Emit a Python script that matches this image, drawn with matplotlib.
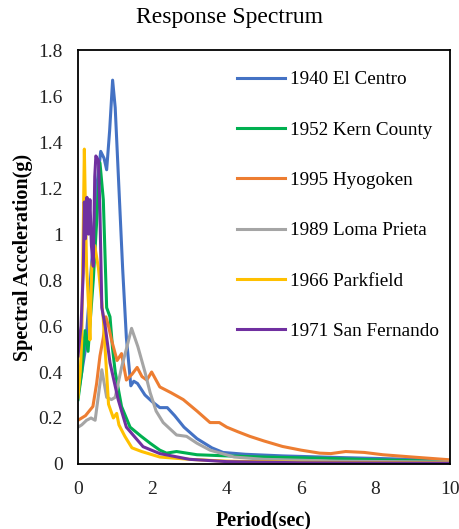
import matplotlib
matplotlib.use("Agg")
import matplotlib.pyplot as plt

plt.rcParams['font.family'] = ['Liberation Serif', 'DejaVu Serif']

# spectra: period (s) and spectral acceleration (g)
el_centro_t = [0.0, 0.2, 0.4, 0.5, 0.61, 0.7, 0.77, 0.85, 0.93, 1.0, 1.1, 1.2, 1.3, 1.42, 1.5, 1.6,
               1.8, 2.0, 2.2, 2.4, 2.6, 2.85, 3.2, 3.6, 3.9, 4.5, 5.5, 7.0, 8.5, 10.0]
el_centro_a = [0.3, 0.5, 0.95, 1.2, 1.36, 1.33, 1.28, 1.45, 1.67, 1.55, 1.2, 0.85, 0.55, 0.34, 0.36, 0.35,
               0.3, 0.27, 0.245, 0.245, 0.21, 0.16, 0.11, 0.07, 0.05, 0.042, 0.035, 0.028, 0.022, 0.015]

kern_t = [0.0, 0.1, 0.19, 0.27, 0.34, 0.41, 0.5, 0.59, 0.68, 0.77, 0.86, 0.93, 1.0, 1.17, 1.4,
          1.7, 1.94, 2.2, 2.38, 2.65, 3.2, 4.0, 5.0, 6.5, 8.0, 10.0]
kern_a = [0.28, 0.4, 0.58, 0.49, 0.65, 0.8, 1.05, 1.31, 1.15, 0.68, 0.64, 0.5, 0.4, 0.25, 0.16,
          0.12, 0.09, 0.06, 0.047, 0.054, 0.04, 0.035, 0.03, 0.025, 0.018, 0.01]

hyogoken_t = [0.0, 0.2, 0.4, 0.5, 0.59, 0.68, 0.75, 0.82, 0.9, 1.05, 1.17, 1.3, 1.45, 1.59, 1.72,
              1.85, 1.98, 2.2, 2.5, 2.83, 3.2, 3.55, 3.8, 4.0, 4.3, 4.62, 5.0, 5.5, 6.0, 6.5,
              6.8, 7.2, 7.7, 8.2, 9.0, 10.0]
hyogoken_a = [0.19, 0.21, 0.25, 0.35, 0.47, 0.55, 0.64, 0.6, 0.54, 0.45, 0.48, 0.365, 0.39, 0.42, 0.38,
              0.365, 0.4, 0.335, 0.31, 0.28, 0.23, 0.18, 0.18, 0.16, 0.14, 0.12, 0.1, 0.076, 0.06, 0.047,
              0.045, 0.054, 0.05, 0.04, 0.03, 0.018]

loma_prieta_t = [0.0, 0.1, 0.23, 0.35, 0.46, 0.55, 0.64, 0.77, 0.9, 1.0, 1.17, 1.3, 1.44, 1.61,
                 1.8, 1.94, 2.1, 2.29, 2.65, 2.92, 3.2, 3.55, 4.2, 5.0, 7.0, 10.0]
loma_prieta_a = [0.16, 0.17, 0.19, 0.2, 0.19, 0.3, 0.41, 0.29, 0.28, 0.29, 0.42, 0.5, 0.59, 0.51,
                 0.4, 0.31, 0.23, 0.18, 0.126, 0.12, 0.09, 0.06, 0.03, 0.02, 0.012, 0.008]

parkfield_t = [0.0, 0.06, 0.1, 0.13, 0.17, 0.2, 0.23, 0.28, 0.32, 0.37, 0.45, 0.55, 0.68, 0.82,
               0.95, 1.04, 1.1, 1.26, 1.45, 1.71, 2.2, 3.0, 4.0, 6.0, 10.0]
parkfield_a = [0.29, 0.4, 0.54, 0.9, 1.37, 1.1, 0.86, 0.7, 0.54, 0.86, 0.95, 0.85, 0.63, 0.26,
               0.2, 0.22, 0.17, 0.12, 0.07, 0.054, 0.03, 0.02, 0.012, 0.007, 0.004]

san_fernando_t = [0.0, 0.08, 0.14, 0.17, 0.2, 0.24, 0.28, 0.32, 0.36, 0.41, 0.45, 0.48, 0.55, 0.59,
                  0.64, 0.73, 0.86, 1.08, 1.3, 1.75, 2.2, 3.0, 4.0, 6.0, 10.0]
san_fernando_a = [0.47, 0.6, 0.83, 1.14, 0.98, 1.16, 1.0, 1.15, 0.95, 0.86, 1.25, 1.34, 1.32, 1.09,
                  0.68, 0.6, 0.44, 0.28, 0.16, 0.075, 0.045, 0.02, 0.01, 0.005, 0.003]

series = [
    ('1940 El Centro', el_centro_t, el_centro_a, '#4472C4'),
    ('1952 Kern County', kern_t, kern_a, '#00B050'),
    ('1995 Hyogoken', hyogoken_t, hyogoken_a, '#ED7D31'),
    ('1989 Loma Prieta', loma_prieta_t, loma_prieta_a, '#A5A5A5'),
    ('1966 Parkfield', parkfield_t, parkfield_a, '#FFC000'),
    ('1971 San Fernando', san_fernando_t, san_fernando_a, '#7030A0'),
]

fig = plt.figure(figsize=(4.59, 5.29), dpi=100)
ax = fig.add_axes([0.17, 0.123, 0.81, 0.782])

for name, t, a, color in series:
    ax.plot(t, a, color=color, linewidth=2.2, label=name, solid_joinstyle='round')

ax.set_xlim(0, 10)
ax.set_ylim(0, 1.8)
ax.set_xticks([0, 2, 4, 6, 8, 10])
ax.set_yticks([0, 0.2, 0.4, 0.6, 0.8, 1.0, 1.2, 1.4, 1.6, 1.8])
ax.set_yticklabels(['0', '0.2', '0.4', '0.6', '0.8', '1', '1.2', '1.4', '1.6', '1.8'])
ax.tick_params(length=0, labelsize=14, colors='#222222')
ax.tick_params(axis='y', pad=11)
ax.tick_params(axis='x', pad=12)
for s in ax.spines.values():
    s.set_linewidth(1.3)

ax.set_xlabel('Period(sec)', fontsize=14.5, fontweight='bold', labelpad=9)
ax.set_ylabel('Spectral Acceleration(g)', fontsize=14.5, fontweight='bold', labelpad=4)
fig.text(0.5, 0.966, 'Response Spectrum', ha='center', va='center', fontsize=17)

ax.legend(loc='upper right', frameon=False, fontsize=13.8, handlelength=2.5,
          labelspacing=1.72, handletextpad=0.26, bbox_to_anchor=(1.016, 0.992))

fig.savefig('out.png', dpi=100)
